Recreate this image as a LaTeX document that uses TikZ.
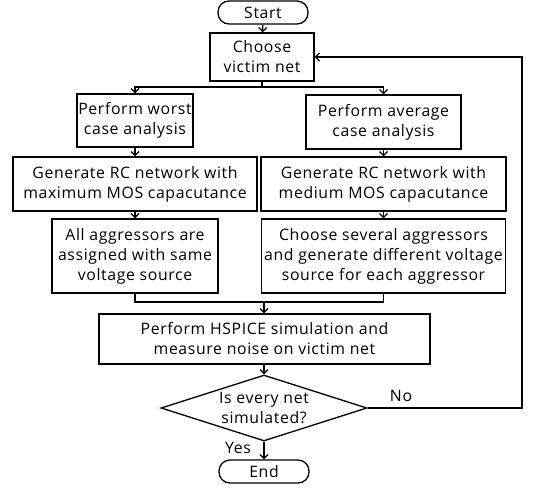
\documentclass[tikz,border=0pt]{standalone}
\usepackage{fontspec}
\setmainfont{Open Sans}[LetterSpace=4]
\usetikzlibrary{arrows.meta,shapes.geometric}
\begin{document}
\begin{tikzpicture}[x=1pt,y=-1pt,
  line width=1.3pt,
  font=\fontsize{15.8}{20}\selectfont,
  box/.style={draw,rectangle,inner sep=0pt,align=center},
  term/.style={draw,rectangle,rounded corners=11pt,inner sep=0pt,minimum width=90pt,minimum height=23pt},
  arr/.style={-{Straight Barb[length=4pt,width=8pt,line width=1.2pt]}},
  lbl/.style={inner sep=0pt}]
\useasboundingbox (0,0) rectangle (537,489);
\node[term] (start) at (263,12.5) {Start};
\node[box,minimum width=104pt,minimum height=48pt] (choose) at (262,57) {Choose\\victim net};
\node[box,minimum width=116pt,minimum height=53pt] (worst) at (135,120.5) {Perform worst\\case analysis};
\node[box,minimum width=155pt,minimum height=54pt] (avg) at (383.5,122) {Perform average\\case analysis};
\node[box,minimum width=244pt,minimum height=54pt] (rcl) at (135,184) {Generate RC network with\\maximum MOS capacutance};
\node[box,minimum width=245pt,minimum height=54pt] (rcr) at (383.5,184) {Generate RC network with\\medium MOS capacutance};
\node[box,minimum width=166pt,minimum height=74pt] (allagg) at (135,256) {All aggressors are\\assigned with same\\voltage source};
\node[box,minimum width=244pt,minimum height=74pt] (several) at (383.5,256) {Choose several aggressors\\and generate different voltage\\source for each aggressor};
\node[box,minimum width=331pt,minimum height=50pt] (hspice) at (264.5,339) {Perform HSPICE simulation and\\measure noise on victim net};
\node[draw,diamond,inner sep=0pt,minimum width=206pt,minimum height=66pt,label={[align=center]center:Is every net\\simulated?}] (dec) at (264,408) {};
\node[term] (end) at (264,471.5) {End};
\coordinate (split) at (262,87);
\coordinate (merge) at (264,302);
\coordinate (rt) at (522,408);
\node[lbl] (no) at (401,396) {No};
\node[lbl] (yes) at (238,448) {Yes};
\draw[arr] (start) -- (choose);
\draw (choose.south) -- (split);
\draw[arr] (split) -| (worst.north);
\draw[arr] (split) -| (avg.north);
\draw[arr] (worst) -- (rcl);
\draw[arr] (avg.south) -- (rcr.north -| avg.south);
\draw[arr] (rcl) -- (allagg);
\draw[arr] (rcr.south -| several.north) -- (several.north);
\draw (allagg.south) |- (merge);
\draw (several.south) |- (merge);
\draw[arr] (merge) -- (merge |- hspice.north);
\draw[arr] (hspice.south -| dec.north) -- (dec.north);
\draw[arr] (dec.south) -- (end.north);
\draw[arr] (dec.east) -- (rt) |- (choose.east);
\end{tikzpicture}
\end{document}
